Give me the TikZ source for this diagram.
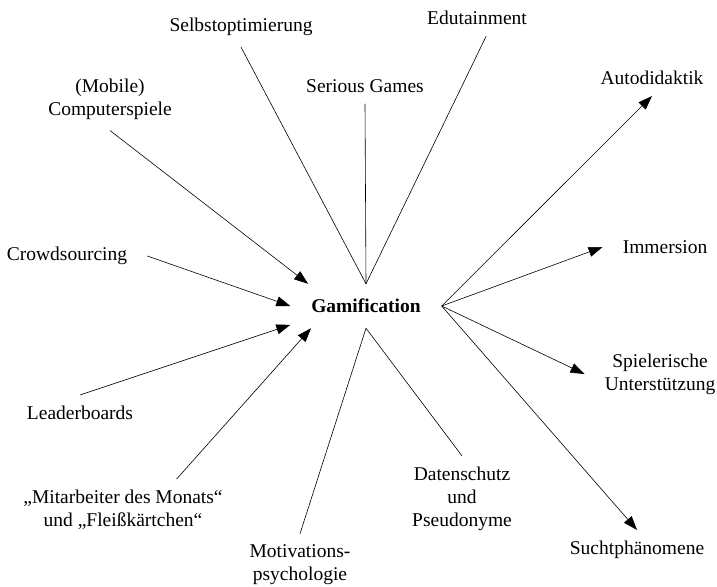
\documentclass[tikz,border=0pt]{standalone}
\usepackage{fontspec}
\setmainfont{Liberation Serif}
\usetikzlibrary{arrows.meta}

\begin{document}
\begin{tikzpicture}[
    x=1pt, y=1pt,
    topic/.style={align=center, inner xsep=20pt, inner ysep=11pt, font=\fontsize{19.5}{23}\selectfont},
    core/.style={rectangle, minimum width=151pt, minimum height=44pt, inner sep=0pt, font=\fontsize{19.5}{23}\selectfont\bfseries},
    link/.style={line width=0.6pt},
    arr/.style={link, -{Triangle[length=14pt, width=10pt]}}
]
    \useasboundingbox (0,0) rectangle (717,-586);

    \node[core] (gam) at (366,-306) {Gamification};

    % top
    \node[topic] (sel) at (241,-27)  {Selbstoptimierung};
    \node[topic] (ser) at (365,-86)  {Serious Games};
    \node[topic] (edu) at (477,-18)  {Edutainment};

    % left
    \node[topic] (mob) at (110,-99)  {(Mobile)\\Computerspiele};
    \node[topic] (cro) at (67,-256)  {Crowdsourcing};
    \node[topic] (lea) at (80,-413)  {Leaderboards};
    \node[topic] (mit) at (123,-510) {„Mitarbeiter des Monats“\\und „Fleißkärtchen“};

    % bottom
    \node[topic] (mot) at (300,-565) {Motivations-\\psychologie};
    \node[topic] (dat) at (462,-499) {Datenschutz\\und\\Pseudonyme};

    % right
    \node[topic] (aut) at (652,-78)  {Autodidaktik};
    \node[topic] (imm) at (665,-247) {Immersion};
    \node[topic] (spi) at (660,-374) {Spielerische\\Unterstützung};
    \node[topic] (suc) at (637,-550) {Suchtphänomene};

    \draw[link] (sel.south) -- (gam.north);
    \draw[link] (ser.south) -- (gam.north);
    \draw[link] (edu.-63) -- (gam.north);

    \draw[arr] (mob.south) -- (gam.159);
    \draw[arr] (cro.east) -- (gam.west);
    \draw[arr] (lea.north) -- (gam.194);
    \draw[arr] (mit.30) -- (gam.202);

    \draw[link] (mot.north) -- (gam.south);
    \draw[link] (dat.north) -- (gam.south);

    \draw[arr] (gam.east) -- (aut.south);
    \draw[arr] (gam.east) -- (imm.west);
    \draw[arr] (gam.east) -- (spi.west);
    \draw[arr] (gam.east) -- (suc.north);
\end{tikzpicture}
\end{document}
